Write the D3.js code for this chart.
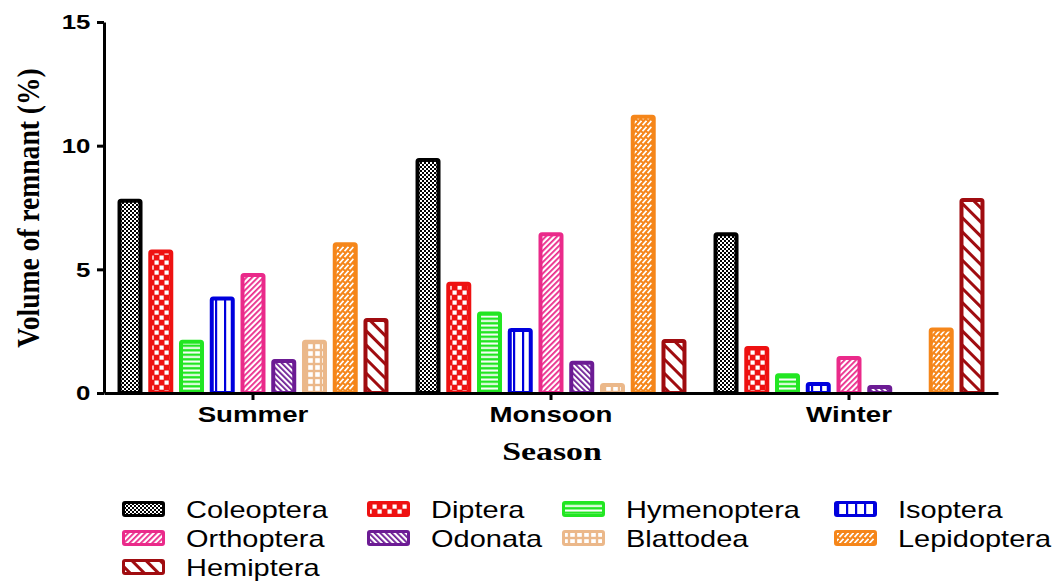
<!DOCTYPE html>
<html><head><meta charset="utf-8">
<script src="https://cdn.jsdelivr.net/npm/d3@7"></script>
<style>html,body{margin:0;padding:0;background:#fff;}svg{display:block;}</style>
</head><body>
<svg id="chart" width="1062" height="585"></svg>
<script>
// ---- data ----
const seasons = ["Summer", "Monsoon", "Winter"];
const orders = ["Coleoptera","Diptera","Hymenoptera","Isoptera","Orthoptera","Odonata","Blattodea","Lepidoptera","Hemiptera"];
const summerValues  = [7.85, 5.8, 2.15, 3.9, 4.85, 1.37, 2.15, 6.1, 3.03];
const monsoonValues = [9.5, 4.5, 3.3, 2.63, 6.5, 1.3, 0.4, 11.25, 2.18];
const winterValues  = [6.5, 1.9, 0.8, 0.44, 1.5, 0.32, 0, 2.65, 7.88];
const yTicks = [0, 5, 10, 15];
const yTitle = "Volume of remnant (%)";
const xTitle = "Season";

// ---- styles ----
const colors = {
  Coleoptera:"#000000", Diptera:"#ee1111", Hymenoptera:"#22e622", Isoptera:"#0000dd",
  Orthoptera:"#ea2a8a", Odonata:"#6c1b94", Blattodea:"#ebb88a", Lepidoptera:"#f5861a", Hemiptera:"#a00c10"
};
const SX = 1.23; // horizontal stretch of the reference text
const valuesBySeason = [summerValues, monsoonValues, winterValues];

const svg = d3.select("#chart");
const defs = svg.append("defs");

function pat(id, w, h, rot) {
  const p = defs.append("pattern").attr("id", id).attr("patternUnits", "userSpaceOnUse")
    .attr("width", w).attr("height", h);
  if (rot) p.attr("patternTransform", `rotate(${rot})`);
  return p;
}
// Coleoptera: fine checkerboard
{ const p = pat("p-Coleoptera", 4, 4); const c = colors.Coleoptera;
  p.append("rect").attr("width",4).attr("height",4).attr("fill","#fff");
  p.append("rect").attr("width",2).attr("height",2).attr("fill",c);
  p.append("rect").attr("x",2).attr("y",2).attr("width",2).attr("height",2).attr("fill",c); }
// Diptera: coarse white squares on red (checker)
{ const p = pat("p-Diptera", 10, 10); const c = colors.Diptera;
  p.append("rect").attr("width",10).attr("height",10).attr("fill",c);
  p.append("rect").attr("x",0.5).attr("y",0.5).attr("width",4.2).attr("height",4.2).attr("fill","#fff");
  p.append("rect").attr("x",5.5).attr("y",5.5).attr("width",4.2).attr("height",4.2).attr("fill","#fff"); }
// Hymenoptera: horizontal stripes
{ const p = pat("p-Hymenoptera", 4, 4.5); const c = colors.Hymenoptera;
  p.append("rect").attr("width",4).attr("height",4.5).attr("fill",c);
  p.append("rect").attr("y",0.5).attr("width",4).attr("height",2).attr("fill","#fff"); }
// Isoptera: vertical lines
{ const p = pat("p-Isoptera", 9, 4); const c = colors.Isoptera;
  p.append("rect").attr("width",9).attr("height",4).attr("fill","#fff");
  p.append("rect").attr("x",3).attr("width",2.2).attr("height",4).attr("fill",c); }
// Orthoptera: fine "/" lines
{ const p = pat("p-Orthoptera", 4, 4, 45); const c = colors.Orthoptera;
  p.append("rect").attr("width",4).attr("height",4).attr("fill","#fff");
  p.append("rect").attr("width",1.8).attr("height",4).attr("fill",c); }
// Odonata: fine "\" lines
{ const p = pat("p-Odonata", 4, 4, -45); const c = colors.Odonata;
  p.append("rect").attr("width",4).attr("height",4).attr("fill","#fff");
  p.append("rect").attr("width",1.8).attr("height",4).attr("fill",c); }
// Blattodea: grid
{ const p = pat("p-Blattodea", 7, 7); const c = colors.Blattodea;
  p.append("rect").attr("width",7).attr("height",7).attr("fill",c);
  p.append("rect").attr("x",1.2).attr("y",1.2).attr("width",4.6).attr("height",4.6).attr("fill","#fff"); }
// Lepidoptera: white slanted dashes on orange
{ const p = pat("p-Lepidoptera", 5, 6); const c = colors.Lepidoptera;
  p.append("rect").attr("width",5).attr("height",6).attr("fill",c);
  p.append("line").attr("x1",0.5).attr("y1",5.2).attr("x2",4.5).attr("y2",0.8)
    .attr("stroke","#fff").attr("stroke-width",1.8); }
// Hemiptera: wide "\" lines
{ const p = pat("p-Hemiptera", 10, 10, -45); const c = colors.Hemiptera;
  p.append("rect").attr("width",10).attr("height",10).attr("fill","#fff");
  p.append("rect").attr("width",3).attr("height",10).attr("fill",c); }

// ---- scales ----
const x0 = d3.scaleBand().domain(seasons).range([104, 998]).paddingInner(0).paddingOuter(0);
const x1 = d3.scaleBand().domain(orders).range([0, x0.bandwidth()]).paddingInner(0.187).paddingOuter(0.44);
const y = d3.scaleLinear().domain([0, 15]).range([393, 22]);

// ---- bars ----
const SW = 4;
const groups = svg.append("g").selectAll("g").data(seasons).join("g")
  .attr("transform", d => `translate(${x0(d)},0)`);
groups.selectAll("rect")
  .data((s, i) => orders.map((o, j) => ({order: o, value: valuesBySeason[i][j]})).filter(d => d.value > 0))
  .join("rect")
  .attr("x", d => x1(d.order) + SW / 2)
  .attr("y", d => y(d.value) + SW / 2)
  .attr("width", x1.bandwidth() - SW)
  .attr("height", d => y(0) - y(d.value) - SW / 2)
  .attr("rx", 1.5)
  .attr("fill", d => `url(#p-${d.order})`)
  .attr("stroke", d => colors[d.order])
  .attr("stroke-width", SW);

// ---- axes ----
const yAxis = svg.append("g").attr("transform", "translate(104,0)")
  .call(d3.axisLeft(y).tickValues(yTicks).tickSize(7).tickSizeOuter(0).tickPadding(4));
yAxis.select(".domain").attr("stroke", "#000").attr("stroke-width", 3);
yAxis.selectAll(".tick line").attr("stroke", "#000").attr("stroke-width", 3);
yAxis.selectAll(".tick text")
  .attr("font-family", "'Liberation Sans', Arial, sans-serif")
  .attr("font-weight", "bold").attr("font-size", 21).attr("fill", "#000")
  .attr("transform", `scale(${SX},1)`);

const xAxis = svg.append("g").attr("transform", "translate(0,393)")
  .call(d3.axisBottom(x0).tickSize(7).tickSizeOuter(0).tickPadding(6));
xAxis.select(".domain").attr("stroke", "#000").attr("stroke-width", 3);
xAxis.selectAll(".tick line").attr("stroke", "#000").attr("stroke-width", 3);
xAxis.selectAll(".tick text")
  .attr("font-family", "'Liberation Sans', Arial, sans-serif")
  .attr("font-weight", "bold").attr("font-size", 22.5).attr("fill", "#000")
  .attr("transform", `scale(${SX},1)`);

// ---- titles ----
svg.append("text")
  .attr("transform", `translate(39,208) rotate(-90) scale(1.04,${SX})`)
  .attr("text-anchor", "middle")
  .attr("font-family", "'Liberation Serif', 'Times New Roman', serif")
  .attr("font-weight", "bold").attr("font-size", 26.5).attr("fill", "#000")
  .text(yTitle);
svg.append("text")
  .attr("transform", `translate(552,460) scale(1.3,1)`)
  .attr("text-anchor", "middle")
  .attr("font-family", "'Liberation Serif', 'Times New Roman', serif")
  .attr("font-weight", "bold").attr("font-size", 26).attr("fill", "#000")
  .text(xTitle);

// ---- legend ----
const legendCols = [122, 367, 562, 834];
const legendRows = [509, 538, 567];
const legend = svg.append("g").selectAll("g").data(orders).join("g")
  .attr("transform", (d, i) => `translate(${legendCols[i % 4]},${legendRows[Math.floor(i / 4)]})`);
legend.append("rect")
  .attr("x", 1.5).attr("y", -6.5).attr("width", 40).attr("height", 13).attr("rx", 1.5)
  .attr("fill", d => `url(#p-${d})`)
  .attr("stroke", d => colors[d]).attr("stroke-width", 3);
legend.append("text")
  .attr("transform", `translate(64,8.5) scale(1.26,1)`)
  .attr("font-family", "'Liberation Sans', Arial, sans-serif")
  .attr("font-size", 23).attr("fill", "#000")
  .text(d => d);
</script>
</body></html>
